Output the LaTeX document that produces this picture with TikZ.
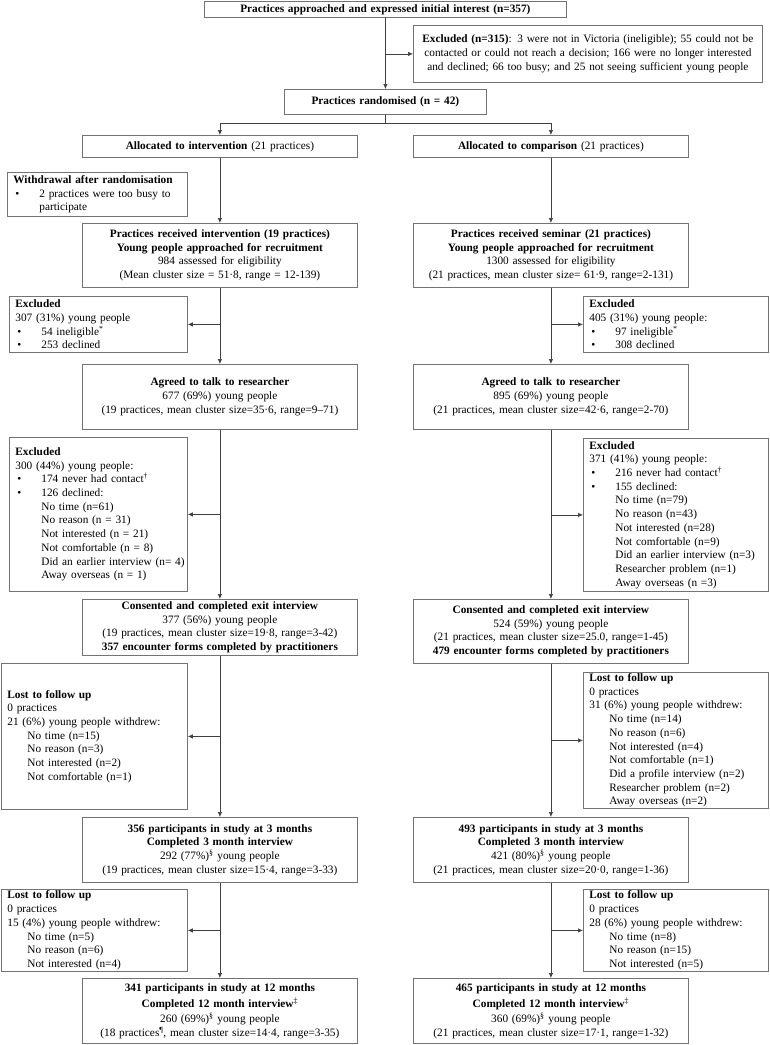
\documentclass[tikz,border=0pt]{standalone}
\usepackage{fontspec}
\setmainfont{Liberation Serif}
\usetikzlibrary{calc}
\usetikzlibrary{arrows.meta}
\tikzset{
    box/.style={draw=black!55, line width=0.8pt, anchor=north west, inner xsep=6pt, inner ysep=1pt,
                font=\fontsize{11.3}{13.7}\selectfont},
    cbox/.style={box, align=center},
    lbox/.style={box, align=left},
    wh/.code 2 args={\pgfmathsetmacro\boxw{#1-12}\pgfkeysalso{minimum width=#1pt, minimum height=#2pt, text width=\boxw pt}},
    link/.style={draw=black!75, line width=0.7pt},
    arr/.style={link, -{Latex[length=5pt,width=4.5pt]}}
}
\newcommand{\bulitem}{\hspace*{2pt}\makebox[24pt][l]{\textbullet}}
\newcommand{\declind}{\hspace*{26pt}}
\newcommand{\lostind}{\hspace*{20pt}}

\begin{document}
\begin{tikzpicture}[x=1pt, y=-1pt]
  \useasboundingbox (0,0) rectangle (770,1045);

  % enrolment
  \node[cbox, wh={362}{16}] (approached) at (204,1)
    {\textbf{Practices approached and expressed initial interest (n=357)}};
  \node[cbox, wh={349}{57}] (exclP) at (413,25)
    {\textbf{Excluded (n=315)}: 3 were not in Victoria (ineligible); 55 could not be\\
     contacted or could not reach a decision; 166 were no longer interested\\
     and declined; 66 too busy; and 25 not seeing sufficient young people};
  \node[cbox, wh={202}{25}] (randomised) at (284,89) {\textbf{Practices randomised (n = 42)}};
  \coordinate (split) at ($(randomised.south)+(0,9)$);

  % allocation
  \node[cbox, wh={275}{22}] (allocI) at (82,135) {\textbf{Allocated to intervention} (21 practices)};
  \node[cbox, wh={275}{22}] (allocC) at (413,135) {\textbf{Allocated to comparison} (21 practices)};
  \node[lbox, wh={180}{44}] (withdrawI) at (7,172)
    {\textbf{Withdrawal after randomisation}\\
     \bulitem 2 practices were too busy to\\
     \declind participate};

  % recruitment
  \node[cbox, wh={275}{64}] (recvI) at (82,223)
    {\textbf{Practices received intervention (19 practices)}\\
     \textbf{Young people approached for recruitment}\\
     984 assessed for eligibility\\
     (Mean cluster size = 51·8, range = 12-139)};
  \node[cbox, wh={275}{64}] (recvC) at (413,223)
    {\textbf{Practices received seminar (21 practices)}\\
     \textbf{Young people approached for recruitment}\\
     1300 assessed for eligibility\\
     (21 practices, mean cluster size= 61·9, range=2-131)};
  \node[lbox, wh={178}{56}] (exclI1) at (9,296)
    {\textbf{Excluded}\\
     307 (31\%) young people\\
     \bulitem 54 ineligible\textsuperscript{*}\\
     \bulitem 253 declined};
  \node[lbox, wh={185}{56}] (exclC1) at (583,296)
    {\textbf{Excluded}\\
     405 (31\%) young people:\\
     \bulitem 97 ineligible\textsuperscript{*}\\
     \bulitem 308 declined};

  % agreed
  \node[cbox, wh={275}{65}] (agrI) at (82,364)
    {\textbf{Agreed to talk to researcher}\\
     677 (69\%) young people\\
     (19 practices, mean cluster size=35·6, range=9–71)};
  \node[cbox, wh={275}{65}] (agrC) at (413,364)
    {\textbf{Agreed to talk to researcher}\\
     895 (69\%) young people\\
     (21 practices, mean cluster size=42·6, range=2-70)};
  \node[lbox, wh={178}{154}] (exclI2) at (9,437)
    {\textbf{Excluded}\\
     300 (44\%) young people:\\
     \bulitem 174 never had contact\textsuperscript{†}\\
     \bulitem 126 declined:\\
     \declind No time (n=61)\\
     \declind No reason (n = 31)\\
     \declind Not interested (n = 21)\\
     \declind Not comfortable (n = 8)\\
     \declind\mbox{Did an earlier interview (n= 4)}\\
     \declind Away overseas (n = 1)};
  \node[lbox, wh={185}{153}] (exclC2) at (583,438)
    {\textbf{Excluded}\\
     371 (41\%) young people:\\
     \bulitem 216 never had contact\textsuperscript{†}\\
     \bulitem 155 declined:\\
     \declind No time (n=79)\\
     \declind No reason (n=43)\\
     \declind Not interested (n=28)\\
     \declind Not comfortable (n=9)\\
     \declind\mbox{Did an earlier interview (n=3)}\\
     \declind Researcher problem (n=1)\\
     \declind Away overseas (n =3)};

  % exit interview
  \node[cbox, wh={275}{56}] (consI) at (82,599)
    {\textbf{Consented and completed exit interview}\\
     377 (56\%) young people\\
     (19 practices, mean cluster size=19·8, range=3-42)\\
     \textbf{357 encounter forms completed by practitioners}};
  \node[cbox, wh={275}{64}] (consC) at (413,599)
    {\textbf{Consented and completed exit interview}\\
     524 (59\%) young people\\
     (21 practices, mean cluster size=25.0, range=1-45)\\
     \textbf{479 encounter forms completed by practitioners}};
  \node[lbox, wh={186}{146}] (lostI1) at (1,663)
    {\textbf{Lost to follow up}\\
     0 practices\\
     21 (6\%) young people withdrew:\\
     \lostind No time (n=15)\\
     \lostind No reason (n=3)\\
     \lostind Not interested (n=2)\\
     \lostind Not comfortable (n=1)};
  \node[lbox, wh={185}{136}] (lostC1) at (583,672)
    {\textbf{Lost to follow up}\\
     0 practices\\
     31 (6\%) young people withdrew:\\
     \lostind No time (n=14)\\
     \lostind No reason (n=6)\\
     \lostind Not interested (n=4)\\
     \lostind Not comfortable (n=1)\\
     \lostind Did a profile interview (n=2)\\
     \lostind Researcher problem (n=2)\\
     \lostind Away overseas (n=2)};

  % 3 months
  \node[cbox, wh={275}{65}] (m3I) at (82,817)
    {\textbf{356 participants in study at 3 months}\\
     \textbf{Completed 3 month interview}\\
     292 (77\%)\textsuperscript{§} young people\\
     (19 practices, mean cluster size=15·4, range=3-33)};
  \node[cbox, wh={275}{65}] (m3C) at (413,817)
    {\textbf{493 participants in study at 3 months}\\
     \textbf{Completed 3 month interview}\\
     421 (80\%)\textsuperscript{§} young people\\
     (21 practices, mean cluster size=20·0, range=1-36)};
  \node[lbox, wh={186}{82}] (lostI2) at (1,889)
    {\textbf{Lost to follow up}\\
     0 practices\\
     15 (4\%) young people withdrew:\\
     \lostind No time (n=5)\\
     \lostind No reason (n=6)\\
     \lostind Not interested (n=4)};
  \node[lbox, wh={185}{82}] (lostC2) at (583,889)
    {\textbf{Lost to follow up}\\
     0 practices\\
     28 (6\%) young people withdrew:\\
     \lostind No time (n=8)\\
     \lostind No reason (n=15)\\
     \lostind Not interested (n=5)};

  % 12 months
  \node[cbox, wh={275}{65}] (m12I) at (82,978)
    {\textbf{341 participants in study at 12 months}\\[3pt]
     \textbf{Completed 12 month interview}\textsuperscript{‡}\\[1pt]
     260 (69\%)\textsuperscript{§} young people\\
     (18 practices\textsuperscript{¶}, mean cluster size=14·4, range=3-35)};
  \node[cbox, wh={275}{65}] (m12C) at (413,978)
    {\textbf{465 participants in study at 12 months}\\[3pt]
     \textbf{Completed 12 month interview}\textsuperscript{‡}\\[1pt]
     360 (69\%)\textsuperscript{§} young people\\
     (21 practices, mean cluster size=17·1, range=1-32)};

  % connectors
  \draw[arr] (approached.south) -- (approached.south |- randomised.north);
  \coordinate (bP) at (approached.south |- exclP.west);
  \draw[arr] (bP) -- (exclP.west);
  \draw[link] (randomised.south) -- (split);
  \draw[arr] (split) -| (allocI.north);
  \draw[arr] (split) -| (allocC.north);
  \foreach \a/\b in {allocI/recvI, recvI/agrI, agrI/consI, consI/m3I, m3I/m12I,
                     allocC/recvC, recvC/agrC, agrC/consC, consC/m3C, m3C/m12C}
    \draw[arr] (\a.south) -- (\b.north);
  % side exits
  \foreach \a/\e/\s in {recvI/exclI1/east, agrI/exclI2/east, consI/lostI1/east, m3I/lostI2/east,
                        recvC/exclC1/west, agrC/exclC2/west, consC/lostC1/west, m3C/lostC2/west}
    \draw[arr] (\a.south |- \e.\s) -- (\e.\s);
\end{tikzpicture}
\end{document}
